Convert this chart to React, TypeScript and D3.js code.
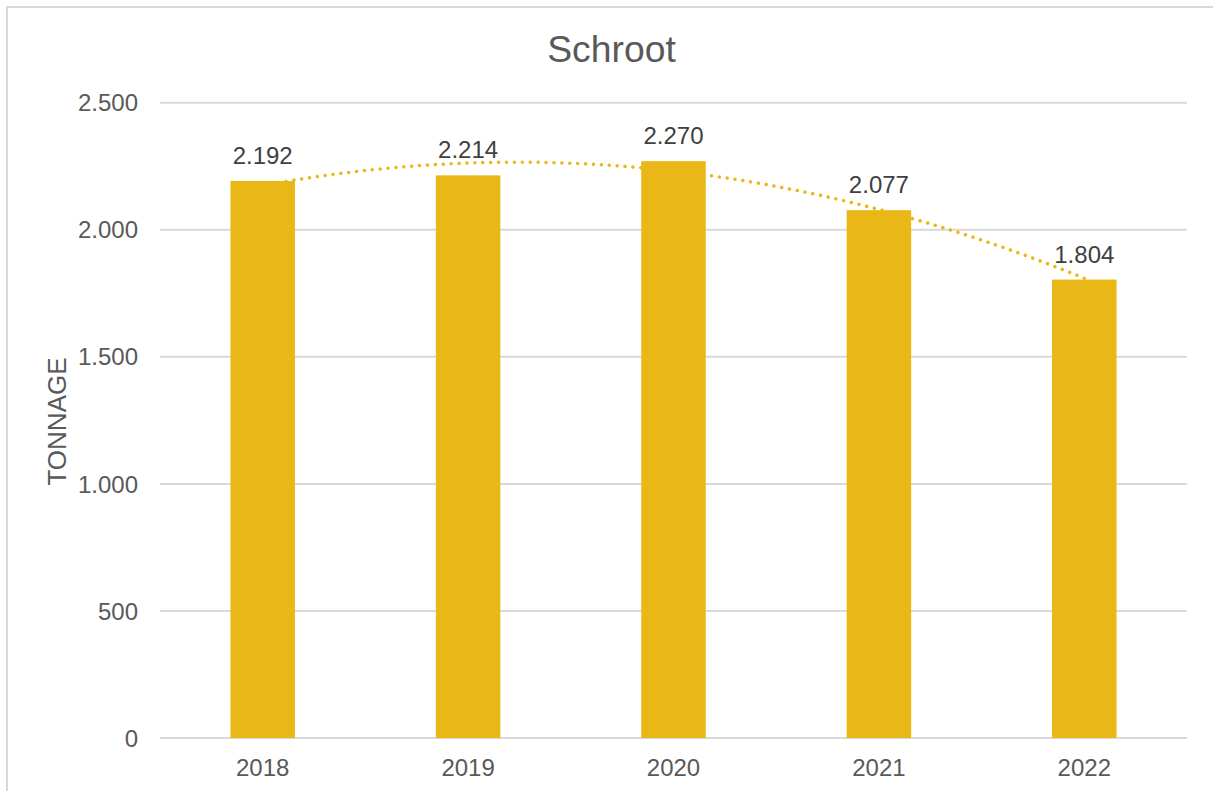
import React from "react";
import * as d3 from "d3";

const categories: string[] = ["2018", "2019", "2020", "2021", "2022"];
const values: number[] = [2192, 2214, 2270, 2077, 1804];
const yTicks: number[] = [0, 500, 1000, 1500, 2000, 2500];
const title = "Schroot";
const yTitle = "TONNAGE";

const W = 1213;
const H = 791;
const plot = { left: 160, right: 1187, top: 102.7, bottom: 738 };
const GOLD = "#E9B716";
const FONT = "'Liberation Sans', Arial, sans-serif";

const fmt = (v: number) => {
  const s = d3.format(",")(v);
  return s.replace(/,/g, ".");
};

// least squares polynomial (order 2) trendline, as in the spreadsheet
function polyFit2(xs: number[], ys: number[]): [number, number, number] {
  const n = xs.length;
  let s0 = n, s1 = 0, s2 = 0, s3 = 0, s4 = 0, t0 = 0, t1 = 0, t2 = 0;
  for (let i = 0; i < n; i++) {
    const x = xs[i], y = ys[i];
    s1 += x; s2 += x * x; s3 += x * x * x; s4 += x * x * x * x;
    t0 += y; t1 += x * y; t2 += x * x * y;
  }
  const A = [
    [s0, s1, s2, t0],
    [s1, s2, s3, t1],
    [s2, s3, s4, t2],
  ];
  for (let i = 0; i < 3; i++) {
    let p = i;
    for (let r = i + 1; r < 3; r++) if (Math.abs(A[r][i]) > Math.abs(A[p][i])) p = r;
    [A[i], A[p]] = [A[p], A[i]];
    for (let r = 0; r < 3; r++) {
      if (r === i) continue;
      const f = A[r][i] / A[i][i];
      for (let c = i; c < 4; c++) A[r][c] -= f * A[i][c];
    }
  }
  return [A[0][3] / A[0][0], A[1][3] / A[1][1], A[2][3] / A[2][2]];
}

export default function App() {
  const x = d3
    .scaleBand<string>()
    .domain(categories)
    .range([plot.left, plot.right])
    .paddingInner(0.686)
    .paddingOuter(0.343);
  const y = d3.scaleLinear().domain([0, 2500]).range([plot.bottom, plot.top]);

  const xs = categories.map((_, i) => i + 1);
  const [a, b, c] = polyFit2(xs, values);
  const step = x.step();
  const center = (i: number) => (x(categories[0]) as number) + x.bandwidth() / 2 + (i - 1) * step;
  const samples = d3.range(1, 5.0001, 0.05);
  const trend = d3
    .line<number>()
    .x((t) => center(t))
    .y((t) => y(a + b * t + c * t * t))(samples) as string;

  return (
    <svg
      width={W}
      height={H}
      style={{ position: "absolute", left: 0, top: 0, background: "#fff" }}
      fontFamily={FONT}
    >
      <rect x={0} y={0} width={W} height={H} fill="#fff" />
      <rect x={7} y={7} width={W + 20} height={H + 20} fill="none" stroke="#D9D9D9" strokeWidth={2} />
      <text x={611.5} y={61.7} textAnchor="middle" fontSize={37.3} fill="#595959">
        {title}
      </text>
      {yTicks.map((t) => (
        <g key={t}>
          <line x1={plot.left} x2={plot.right} y1={y(t)} y2={y(t)} stroke="#D9D9D9" strokeWidth={2} />
          <text x={138} y={y(t)} dy="0.36em" textAnchor="end" fontSize={24} fill="#595959">
            {fmt(t)}
          </text>
        </g>
      ))}
      <text
        transform={`translate(65.5,421.5) rotate(-90)`}
        textAnchor="middle"
        fontSize={26}
        fill="#595959"
      >
        {yTitle}
      </text>
      <path
        d={trend}
        fill="none"
        stroke={GOLD}
        strokeWidth={3.5}
        strokeLinecap="round"
        strokeDasharray="0.01 7.9"
      />
      {categories.map((cat, i) => (
        <g key={cat}>
          <rect
            x={x(cat) as number}
            y={y(values[i])}
            width={x.bandwidth()}
            height={y(0) - y(values[i])}
            fill={GOLD}
          />
          <text
            x={(x(cat) as number) + x.bandwidth() / 2}
            y={y(values[i]) - 17}
            textAnchor="middle"
            fontSize={24}
            fill="#404040"
          >
            {fmt(values[i])}
          </text>
          <text
            x={(x(cat) as number) + x.bandwidth() / 2}
            y={776}
            textAnchor="middle"
            fontSize={24}
            fill="#595959"
          >
            {cat}
          </text>
        </g>
      ))}
    </svg>
  );
}
